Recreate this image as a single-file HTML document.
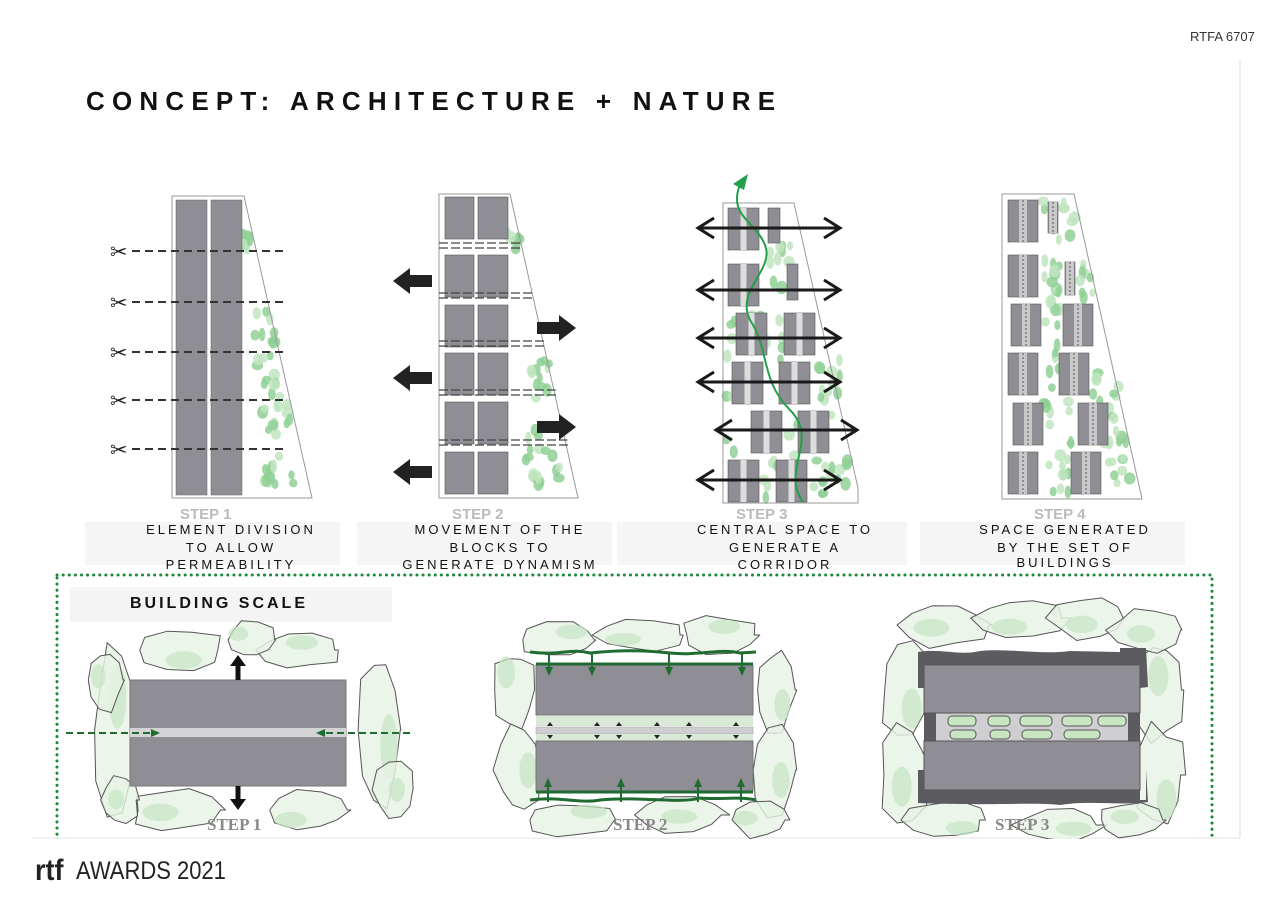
<!DOCTYPE html>
<html><head><meta charset="utf-8">
<style>
html,body{margin:0;padding:0;background:#fff;}
body{width:1273px;height:900px;overflow:hidden;position:relative;font-family:"Liberation Sans",Arial,sans-serif;}
svg{position:absolute;left:0;top:0;}
</style></head>
<body>
<svg id="s" width="1273" height="900" viewBox="0 0 1273 900" xmlns="http://www.w3.org/2000/svg">
<defs>
<marker id="ga" markerUnits="userSpaceOnUse" markerWidth="9" markerHeight="8" refX="7" refY="4" orient="auto"><path d="M0,0 L9,4 L0,8 z" fill="#1f6b32"/></marker>
</defs>
<rect width="1273" height="900" fill="#fff"/>
<line x1="1240" y1="60" x2="1240" y2="838" stroke="#ddd" stroke-width="1"/>
<line x1="32" y1="838" x2="1240" y2="838" stroke="#e6e6e6" stroke-width="1"/>
<text x="1190" y="41" font-size="13" fill="#333">RTFA 6707</text>
<text x="86" y="110" font-size="26" font-weight="bold" letter-spacing="7.2" fill="#111">CONCEPT: ARCHITECTURE + NATURE</text>

<g id="leaves"></g>

<!-- STEP 1 -->
<polygon points="172,196 244,196 312,498 172,498" fill="none" stroke="#999" stroke-width="1"/>
<rect x="176" y="200" width="31" height="295" fill="#8e8e94" stroke="#666" stroke-width="0.5"/>
<rect x="211" y="200" width="31" height="295" fill="#8e8e94" stroke="#666" stroke-width="0.5"/>
<g stroke="#333" stroke-width="2" stroke-dasharray="8,5">
<line x1="132" y1="251" x2="287" y2="251"/><line x1="132" y1="302" x2="283" y2="302"/>
<line x1="132" y1="352" x2="283" y2="352"/><line x1="132" y1="400" x2="283" y2="400"/>
<line x1="132" y1="449" x2="283" y2="449"/></g>
<g font-size="21" fill="#222"><text x="110" y="259">✂</text><text x="110" y="310">✂</text><text x="110" y="360">✂</text><text x="110" y="408">✂</text><text x="110" y="457">✂</text></g>

<!-- STEP 2 -->
<polygon points="439,194 510,194 578,498 439,498" fill="none" stroke="#999" stroke-width="1"/>
<g id="s2"></g>
<g fill="#222">
<path d="M393,281 L410,268 L410,275 L432,275 L432,287 L410,287 L410,294 z"/>
<path d="M393,378 L410,365 L410,372 L432,372 L432,384 L410,384 L410,391 z"/>
<path d="M393,472 L410,459 L410,466 L432,466 L432,478 L410,478 L410,485 z"/>
<path d="M576,328 L559,315 L559,322 L537,322 L537,334 L559,334 L559,341 z"/>
<path d="M576,427 L559,414 L559,421 L537,421 L537,433 L559,433 L559,440 z"/>
</g>

<!-- STEP 3 -->
<polygon points="723,203 794,203 858,488 858,503 723,503" fill="none" stroke="#999" stroke-width="1"/>
<g id="s3"></g>
<path d="M803,502 C780,470 820,440 790,410 C760,380 770,350 750,320 C735,290 775,270 765,245 C755,220 725,215 742,180" fill="none" stroke="#22a04a" stroke-width="2"/>
<path d="M733,184 L748,174 L744,190 z" fill="#22a04a"/>
<g id="arr3" stroke="#1a1a1a" stroke-width="3" fill="none"></g>

<!-- STEP 4 -->
<polygon points="1002,194 1074,194 1142,499 1002,499" fill="none" stroke="#999" stroke-width="1"/>
<g id="s4"></g>

<!-- labels -->
<g font-size="15" font-weight="bold" fill="#bbb">
<text x="180" y="519">STEP 1</text><text x="452" y="519">STEP 2</text><text x="736" y="519">STEP 3</text><text x="1034" y="519">STEP 4</text></g>
<rect x="85" y="522" width="255" height="43" fill="#f6f5f6"/>
<rect x="357" y="522" width="255" height="43" fill="#f6f5f6"/>
<rect x="617" y="522" width="290" height="43" fill="#f6f5f6"/>
<rect x="920" y="522" width="265" height="43" fill="#f6f5f6"/>
<g font-size="13" letter-spacing="3" fill="#111" text-anchor="middle">
<text x="231" y="534">ELEMENT DIVISION</text><text x="231" y="552">TO ALLOW</text><text x="231" y="569">PERMEABILITY</text>
<text x="500" y="534">MOVEMENT OF THE</text><text x="500" y="552">BLOCKS TO</text><text x="500" y="569">GENERATE DYNAMISM</text>
<text x="785" y="534">CENTRAL SPACE TO</text><text x="785" y="552">GENERATE A</text><text x="785" y="569">CORRIDOR</text>
<text x="1065" y="534">SPACE GENERATED</text><text x="1065" y="552">BY THE SET OF</text><text x="1065" y="567">BUILDINGS</text>
</g>

<!-- building scale frame -->
<rect x="57" y="575" width="1155" height="280" fill="none" stroke="#1a8a3a" stroke-width="3" stroke-dasharray="0.1,6" stroke-linecap="round"/>
<rect x="70" y="587" width="322" height="35" fill="#f4f4f4"/>
<text x="130" y="608" font-size="16" font-weight="bold" letter-spacing="3" fill="#111">BUILDING SCALE</text>
<g id="blobs"></g>

<!-- BS step1 -->
<rect x="130" y="680" width="216" height="106" fill="#8e8e94" stroke="#777"/>
<rect x="130" y="728" width="216" height="9" fill="#d4d4d6"/>
<line x1="66" y1="733" x2="158" y2="733" stroke="#1f6b32" stroke-width="2" stroke-dasharray="7,4" marker-end="url(#ga)"/>
<line x1="410" y1="733" x2="318" y2="733" stroke="#1f6b32" stroke-width="2" stroke-dasharray="7,4" marker-end="url(#ga)"/>
<line x1="238" y1="680" x2="238" y2="665" stroke="#111" stroke-width="5"/><path d="M230,666 L238,655 L246,666 z" fill="#111"/>
<line x1="238" y1="786" x2="238" y2="800" stroke="#111" stroke-width="5"/><path d="M230,799 L238,810 L246,799 z" fill="#111"/>

<!-- BS step2 -->
<rect x="536" y="665" width="217" height="50" fill="#8e8e94" stroke="#777"/>
<rect x="536" y="716" width="217" height="10" fill="#d8ead5"/>
<rect x="536" y="727" width="217" height="7" fill="#cfcfd2" stroke="#999" stroke-width="0.5"/>
<rect x="536" y="734" width="217" height="7" fill="#d8ead5"/>
<rect x="536" y="741" width="217" height="50" fill="#8e8e94" stroke="#777"/>
<g stroke="#1f6b32" stroke-width="3" fill="none">
<path d="M530,652 C560,656 570,648 590,653 C620,650 640,650 670,653 C700,656 720,648 740,653 L756,652"/>
<line x1="536" y1="664" x2="753" y2="664"/>
<path d="M530,800 C560,796 580,804 600,800 C640,796 680,804 700,798 C720,800 740,796 756,800"/>
<line x1="536" y1="792" x2="753" y2="792"/>
</g>
<g stroke="#1f6b32" stroke-width="2">
<line x1="549" y1="652" x2="549" y2="674" marker-end="url(#ga)"/><line x1="592" y1="652" x2="592" y2="674" marker-end="url(#ga)"/>
<line x1="669" y1="652" x2="669" y2="674" marker-end="url(#ga)"/><line x1="742" y1="652" x2="742" y2="674" marker-end="url(#ga)"/>
<line x1="548" y1="802" x2="548" y2="780" marker-end="url(#ga)"/><line x1="621" y1="802" x2="621" y2="780" marker-end="url(#ga)"/>
<line x1="698" y1="802" x2="698" y2="780" marker-end="url(#ga)"/><line x1="741" y1="802" x2="741" y2="780" marker-end="url(#ga)"/>
</g>
<g fill="#222">
<path d="M547,726 l3,-4 l3,4z M594,726 l3,-4 l3,4z M616,726 l3,-4 l3,4z M654,726 l3,-4 l3,4z M686,726 l3,-4 l3,4z M733,726 l3,-4 l3,4z"/>
<path d="M547,735 l3,4 l3,-4z M594,735 l3,4 l3,-4z M616,735 l3,4 l3,-4z M654,735 l3,4 l3,-4z M686,735 l3,4 l3,-4z M733,735 l3,4 l3,-4z"/>
</g>

<!-- BS step3 -->
<path d="M918,652 C940,648 960,656 980,651 C1010,648 1040,655 1070,651 L1120,652 L1120,648 L1146,648 L1148,687 L1140,688 L1140,800 L1146,800 L1146,770 L1148,802 C1120,806 1090,800 1060,805 C1030,802 1000,806 918,803 L918,770 L924,770 L924,688 L918,688 z" fill="#5c5c60"/>
<rect x="936" y="712" width="192" height="30" fill="#cfcfd2"/>
<g id="pads"></g>
<rect x="924" y="665" width="216" height="48" fill="#8e8e94" stroke="#555"/>
<rect x="924" y="741" width="216" height="49" fill="#8e8e94" stroke="#555"/>

<g font-size="17" font-weight="bold" fill="#888" font-family="'Liberation Serif',serif">
<text x="207" y="830">STEP 1</text><text x="613" y="830">STEP 2</text><text x="995" y="830">STEP 3</text></g>
<rect x="0" y="839" width="1273" height="61" fill="#fff"/>

<!-- footer -->
<text x="35" y="880" font-size="30" font-weight="bold" fill="#222" transform="translate(35,880) scale(0.9,1) translate(-35,-880)">rtf</text>
<text x="76" y="879" font-size="25" fill="#222" transform="translate(76,879) scale(0.88,1) translate(-76,-879)">AWARDS 2021</text>
</svg>
<script>
(function(){
var NS="http://www.w3.org/2000/svg";
function el(p,t,a){var e=document.createElementNS(NS,t);for(var k in a)e.setAttribute(k,a[k]);document.getElementById(p).appendChild(e);return e;}
var seed=7;function r(){seed=(seed*9301+49297)%233280;return seed/233280;}
function leaves(x1,y1,x2,y2,n){for(var i=0;i<n;i++){el("leaves","ellipse",{cx:x1+r()*(x2-x1),cy:y1+r()*(y2-y1),rx:3+r()*3,ry:4+r()*3,fill:r()<0.5?"#8fd095":"#bfe5c0",opacity:0.85});}}
leaves(240,235,255,250,8);leaves(255,310,275,380,14);leaves(262,380,290,440,18);leaves(262,455,295,490,14);
leaves(505,230,520,250,8);leaves(530,360,550,400,12);leaves(525,430,560,490,18);
leaves(770,245,790,300,10);leaves(745,310,790,360,10);leaves(816,360,840,420,12);leaves(760,410,800,500,16);leaves(812,460,850,495,14);leaves(725,320,735,480,10);
leaves(1042,200,1075,240,10);leaves(1043,260,1060,300,10);leaves(1043,300,1060,390,12);leaves(1093,370,1120,420,12);leaves(1043,400,1075,500,18);leaves(1105,430,1130,495,14);leaves(1078,262,1095,300,8);
var rows=[197,255,305,353,402,452];
rows.forEach(function(y,i){el("s2","rect",{x:445,y:y,width:29,height:42,fill:"#8e8e94",stroke:"#555","stroke-width":0.6});el("s2","rect",{x:478,y:y,width:30,height:42,fill:"#8e8e94",stroke:"#555","stroke-width":0.6});
 if(i>0){var yy=y-12;var xr=439+(yy-194)*71/304+71;
 el("s2","line",{x1:439,y1:yy,x2:xr,y2:yy,stroke:"#444","stroke-width":1.2,"stroke-dasharray":"9,3"});
 el("s2","line",{x1:439,y1:yy+5,x2:xr+1,y2:yy+5,stroke:"#444","stroke-width":1.2,"stroke-dasharray":"9,3"});}});
function dual(g,x,y,w){el(g,"rect",{x:x,y:y,width:w,height:42,fill:"#8e8e94",stroke:"#555","stroke-width":0.6});el(g,"rect",{x:x+w/2-3,y:y,width:6,height:42,fill:"#ddd"});}
[[728,208,31],[728,264,31],[736,313,31],[784,313,31],[732,362,31],[779,362,31],[751,411,31],[798,411,31],[728,460,31],[776,460,31]].forEach(function(b){dual("s3",b[0],b[1],b[2]);});
el("s3","rect",{x:768,y:208,width:12,height:35,fill:"#8e8e94",stroke:"#555","stroke-width":0.6});
el("s3","rect",{x:787,y:264,width:11,height:36,fill:"#8e8e94",stroke:"#555","stroke-width":0.6});
[[228,698,840],[290,698,840],[338,698,840],[382,698,840],[430,716,857],[480,698,840]].forEach(function(a){
 var y=a[0];el("arr3","line",{x1:a[1],y1:y,x2:a[2],y2:y});
 el("arr3","path",{d:"M"+(a[1]+16)+","+(y-10)+" L"+a[1]+","+y+" L"+(a[1]+16)+","+(y+10)});
 el("arr3","path",{d:"M"+(a[2]-16)+","+(y-10)+" L"+a[2]+","+y+" L"+(a[2]-16)+","+(y+10)});});
function s4b(x,y,w,h){el("s4","rect",{x:x,y:y,width:w,height:h,fill:"#8e8e94",stroke:"#555","stroke-width":0.6});el("s4","rect",{x:x+w/2-4,y:y,width:8,height:h,fill:"#c8c8c8"});el("s4","line",{x1:x+w/2,y1:y,x2:x+w/2,y2:y+h,stroke:"#555","stroke-width":1,"stroke-dasharray":"2,2"});}
[[1008,200],[1008,255],[1011,304],[1063,304],[1008,353],[1059,353],[1013,403],[1078,403],[1008,452],[1071,452]].forEach(function(b){s4b(b[0],b[1],30,42);});
s4b(1048,202,10,31);s4b(1065,262,10,33);
function blob(cx,cy,rx,ry){var n=10,d="";for(var i=0;i<=n;i++){var a=i/n*Math.PI*2,k=0.8+r()*0.35;var x=cx+Math.cos(a)*rx*k,y=cy+Math.sin(a)*ry*k;d+=(i?" L":"M")+x.toFixed(1)+","+y.toFixed(1);}
 el("blobs","path",{d:d+"z",fill:"#e6f3e4",stroke:"#555","stroke-width":1,"stroke-linejoin":"round","fill-opacity":0.8});
 el("blobs","ellipse",{cx:cx+(r()-0.5)*rx,cy:cy+(r()-0.5)*ry,rx:rx*0.4,ry:ry*0.4,fill:"#c6e5c3",opacity:0.7});}
[[115,730,22,80],[380,730,22,80],[105,680,18,30],[395,790,20,30],[180,650,45,22],[300,650,40,18],[250,640,25,18],[175,810,45,22],[310,810,40,20],[120,800,20,25]].forEach(function(b){blob(b[0],b[1],b[2],b[3]);});
[[515,690,22,40],[518,770,22,45],[775,690,20,40],[775,770,22,45],[560,640,40,18],[640,635,45,16],[720,635,40,18],[570,820,45,18],[680,815,45,18],[760,820,30,18]].forEach(function(b){blob(b[0],b[1],b[2],b[3]);});
[[905,690,25,50],[905,775,25,50],[1160,690,25,50],[1160,775,25,50],[945,625,45,22],[1020,618,45,20],[1090,618,40,22],[1145,630,35,22],[945,820,40,18],[1060,825,45,18],[1130,820,35,18]].forEach(function(b){blob(b[0],b[1],b[2],b[3]);});
[[948,716,28,10],[988,716,22,10],[1020,716,32,10],[1062,716,30,10],[1098,716,28,10],[950,730,26,9],[990,730,20,9],[1022,730,30,9],[1064,730,36,9]].forEach(function(p){el("pads","rect",{x:p[0],y:p[1],width:p[2],height:p[3],rx:4,fill:"#c9e6c3",stroke:"#555","stroke-width":1});});
})();
</script>
</body></html>
